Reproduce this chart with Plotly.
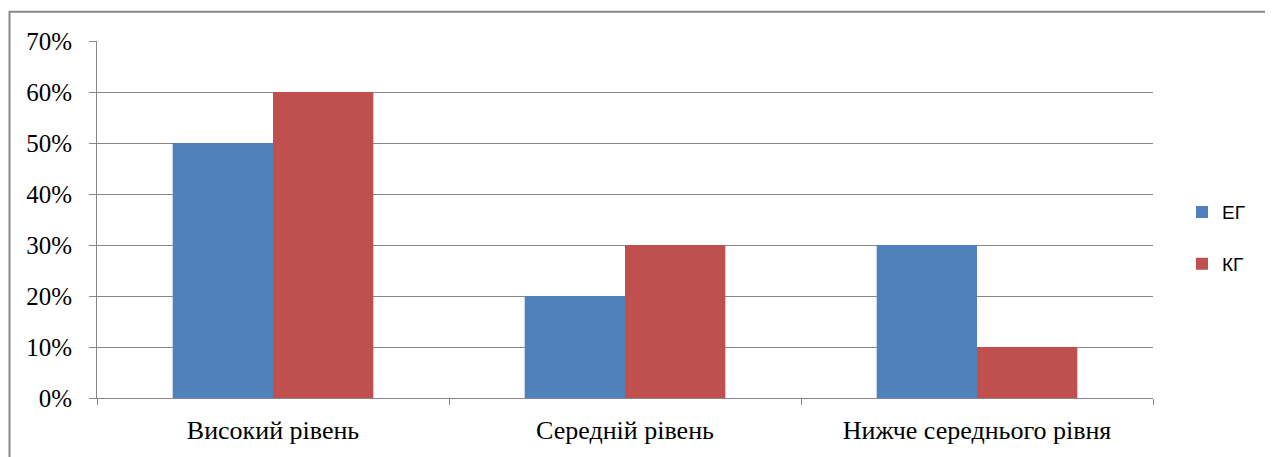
import plotly.graph_objects as go

categories = ["Високий рівень", "Середній рівень", "Нижче середнього рівня"]
eg_values = [0.50, 0.20, 0.30]
kg_values = [0.60, 0.30, 0.10]
series_names = ["ЕГ", "КГ"]
colors = ["#4F81BD", "#C0504D"]

OFF = 8  # browser body margin
W, H = 1273 - OFF, 457 - OFF
L, T = 97 - OFF, 41 - OFF
pw, ph = 1056, 359
R = W - L - pw
B = H - T - ph

fig = go.Figure()
for name, vals, col, grp in zip(series_names, [eg_values, kg_values], colors, ["a", "b"]):
    fig.add_trace(go.Bar(x=categories, y=vals, name=name, marker_color=col,
                         marker_line_width=0, legendgroup=grp))

def px_x(p):  # page px -> paper
    return (p - OFF - L) / pw

def px_y(p):
    return (T + ph - (p - OFF)) / ph

fig.add_shape(type="rect", xref="paper", yref="paper",
              x0=px_x(9.5), x1=px_x(1267.5), y0=px_y(470), y1=px_y(11.5),
              line=dict(color="#878787", width=2), fillcolor="rgba(0,0,0,0)", layer="below")

fig.update_layout(
    width=W, height=H,
    margin=dict(l=L, r=R, t=T, b=B, pad=0),
    plot_bgcolor="white", paper_bgcolor="white",
    barmode="group", bargap=0.43, bargroupgap=0,
    font=dict(family="Liberation Serif", size=24, color="black"),
    legend=dict(x=px_x(1182), y=px_y(194), xanchor="left", yanchor="top",
                font=dict(family="Liberation Sans", size=19, color="black"),
                traceorder="grouped", tracegroupgap=24, bgcolor="rgba(0,0,0,0)"),
    xaxis=dict(showline=True, linecolor="#868686", linewidth=1,
               ticks="outside", tickson="boundaries", ticklen=6, tickcolor="#868686",
               ticklabelstandoff=9,
               showgrid=False, tickfont=dict(family="Liberation Serif", size=26)),
    yaxis=dict(range=[0, 0.7], dtick=0.1, tickformat=".0%", showline=True,
               linecolor="#868686", linewidth=1, ticks="outside", ticklen=7,
               tickcolor="#868686", showgrid=True, gridcolor="#868686", gridwidth=1,
               ticklabelstandoff=12,
               zeroline=False, tickfont=dict(family="Liberation Serif", size=25)),
)

fig.write_html("out.html")
